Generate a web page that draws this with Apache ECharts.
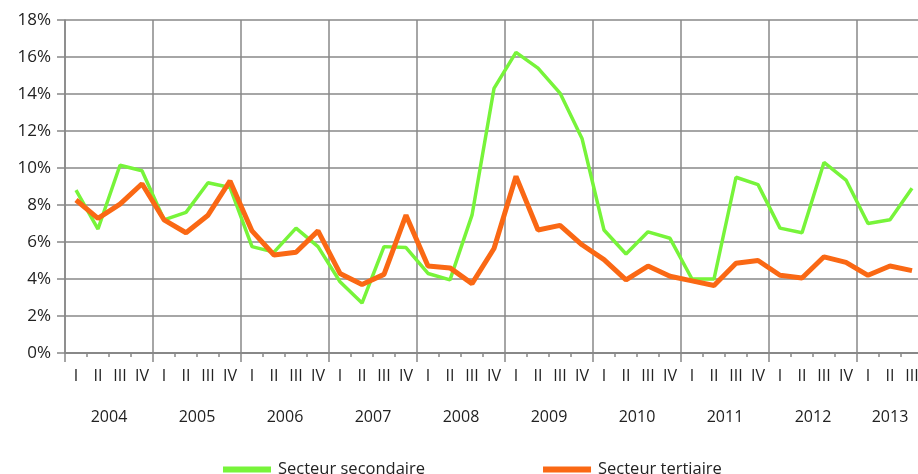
<!DOCTYPE html>
<html>
<head>
<meta charset="utf-8">
<script src="https://cdn.jsdelivr.net/npm/echarts@6/dist/echarts.min.js"></script>
<style>
html,body{margin:0;padding:0;background:#fff;overflow:hidden;width:918px;height:474px;}
#chart{width:926px;height:474px;}
</style>
</head>
<body>
<div id="chart"></div>
<script>
var years = ['2004','2005','2006','2007','2008','2009','2010','2011','2012','2013'];
var quarterNames = ['I','II','III','IV'];
var quarters = [];
for (var y = 0; y < years.length; y++) {
  for (var q = 0; q < 4; q++) {
    if (y === years.length - 1 && q === 3) break;
    quarters.push(quarterNames[q]);
  }
}
var secondaire = [8.8, 6.7, 10.15, 9.85, 7.2, 7.6, 9.2, 8.95, 5.75, 5.45, 6.75, 5.75, 3.85, 2.7, 5.75, 5.7, 4.3, 3.95, 7.45, 14.3, 16.25, 15.4, 14.05, 11.6, 6.65, 5.35, 6.55, 6.2, 4.0, 4.0, 9.5, 9.1, 6.75, 6.5, 10.3, 9.35, 7.0, 7.2, 8.9];
var tertiaire = [8.27, 7.28, 8.05, 9.15, 7.2, 6.5, 7.45, 9.3, 6.6, 5.3, 5.45, 6.6, 4.3, 3.7, 4.25, 7.45, 4.7, 4.6, 3.75, 5.65, 9.55, 6.65, 6.9, 5.85, 5.05, 3.95, 4.7, 4.15, 3.9, 3.65, 4.85, 5.0, 4.2, 4.05, 5.2, 4.9, 4.2, 4.7, 4.45];

var FONT = "'Open Sans', 'Noto Sans', sans-serif";
var n = quarters.length;
var chart = echarts.init(document.getElementById('chart'), null, {renderer: 'canvas'});
chart.setOption({
  animation: false,
  textStyle: {fontFamily: FONT},
  grid: {left: 65, top: 20, right: 3, height: 333, containLabel: false},
  legend: {
    data: ['Secteur secondaire', 'Secteur tertiaire'],
    left: 218, top: 456,
    icon: 'rect', itemWidth: 48, itemHeight: 6, itemGap: 118,
    textStyle: {fontFamily: FONT, fontSize: 16.5, color: '#222', padding: [0,0,0,2]}
  },
  xAxis: [
    {
      type: 'category', data: quarters, boundaryGap: true, position: 'bottom',
      axisLine: {show: true, lineStyle: {color: '#888', width: 2}},
      axisTick: {show: true, interval: 0, length: 4, lineStyle: {color: '#888', width: 1.5}},
      axisLabel: {interval: 0, margin: 15, fontSize: 16, color: '#222', fontFamily: FONT},
      splitLine: {show: true, interval: function (i) { return i % 4 === 0; }, lineStyle: {color: '#888', width: 1.5}}
    },
    {
      type: 'category', data: quarters, boundaryGap: true, position: 'bottom',
      axisLine: {show: false},
      axisTick: {show: true, interval: function (i) { return i % 4 === 0; }, length: 9, lineStyle: {color: '#888', width: 1.5}},
      axisLabel: {show: false},
      splitLine: {show: false}
    },
    {
      type: 'value', min: 0, max: n, interval: 0.5, position: 'bottom',
      axisLine: {show: false}, axisTick: {show: false}, splitLine: {show: false},
      axisLabel: {
        margin: 56, fontSize: 16, color: '#222', fontFamily: FONT, showMinLabel: true, showMaxLabel: true,
        formatter: function (v) {
          var last = years.length - 1;
          var lastCenter = last * 4 + (n - last * 4) / 2;
          if (Math.abs(v - lastCenter) < 1e-6) return years[last];
          if (v < last * 4 && Math.abs(v % 4 - 2) < 1e-6) return years[Math.round((v - 2) / 4)];
          return '';
        }
      }
    }
  ],
  yAxis: {
    type: 'value', min: 0, max: 18, interval: 2,
    axisLine: {show: true, lineStyle: {color: '#888', width: 1.5}},
    axisTick: {show: true, length: 8, lineStyle: {color: '#888', width: 1.5}},
    axisLabel: {formatter: '{value}%', fontSize: 17, color: '#222', margin: 14, fontFamily: FONT},
    splitLine: {show: true, lineStyle: {color: '#888', width: 1.5}}
  },
  series: [
    {
      name: 'Secteur secondaire', type: 'line', data: secondaire, xAxisIndex: 0,
      symbol: 'none', lineStyle: {color: '#77F43A', width: 3.5}, itemStyle: {color: '#77F43A'}, z: 3
    },
    {
      name: 'Secteur tertiaire', type: 'line', data: tertiaire, xAxisIndex: 0,
      symbol: 'none', lineStyle: {color: '#FA6814', width: 5}, itemStyle: {color: '#FA6814'}, z: 4
    }
  ]
});
</script>
</body>
</html>
